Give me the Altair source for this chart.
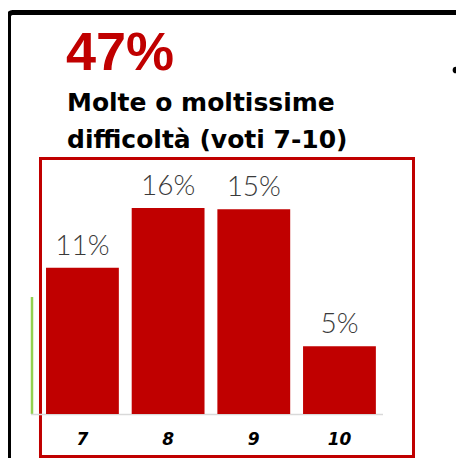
import altair as alt
import pandas as pd

# ---- data ----
categories = ["7", "8", "9", "10"]
values = [11.0, 15.5, 15.4, 5.1]
labels = ["11%", "16%", "15%", "5%"]
headline = "47%"
subtitle = ["Molte o moltissime", "difficoltà (voti 7-10)"]

df = pd.DataFrame({"voto": categories, "pct": values, "label": labels})

RED = "#C00000"
# whole svg must fit in 448x450 (page 464x466 minus 8px margins)
SVG_W, SVG_H = 448, 450
PAD_L, PAD_T = 31.6, 140.2
W, H = 342.7, 265.8
ox, oy = 8 + PAD_L, 8 + PAD_T

def X(p):
    return p - ox

def Y(p):
    return p - oy

one = pd.DataFrame({"k": [0]})

x_enc = alt.X("voto:N", sort=categories, title=None,
              scale=alt.Scale(paddingInner=0.15, paddingOuter=0.075),
              axis=alt.Axis(domain=False, ticks=False, tickSize=0, labelAngle=0,
                            labelPadding=30, labelBaseline="alphabetic",
                            labelFont="DejaVu Sans", labelFontSize=17, labelFontWeight="bold",
                            labelFontStyle="italic", labelColor="#000000", grid=False))
y_enc = alt.Y("pct:Q", title=None, scale=alt.Scale(domain=[0, 20], nice=False),
              axis=None)

frame = alt.Chart(one).mark_rect(fill="white", fillOpacity=0, stroke="#000000",
                                 strokeWidth=5, cornerRadius=4).encode(
    x=alt.value(X(8.5)), x2=alt.value(X(490)), y=alt.value(Y(12.5)), y2=alt.value(Y(490)))

redbox = alt.Chart(one).mark_rect(fill="white", fillOpacity=0, stroke=RED,
                                  strokeWidth=3).encode(
    x=alt.value(X(40.5)), x2=alt.value(X(413.5)), y=alt.value(Y(158.5)), y2=alt.value(Y(456.5)))

green = alt.Chart(one).mark_rule(color="#92D050", strokeWidth=2.5).encode(
    x=alt.value(X(32)), y=alt.value(Y(297)), y2=alt.value(Y(414)))

base = alt.Chart(one).mark_rule(color="#D9D9D9", strokeWidth=1.5).encode(
    x=alt.value(X(31)), x2=alt.value(X(383)), y=alt.value(Y(414.5)))

bars = alt.Chart(df).mark_bar(color=RED).encode(x=x_enc, y=y_enc)

bar_labels = alt.Chart(df).mark_text(font="Lato", fontWeight=300, fontSize=28,
                                     color="#3A3A3A", baseline="alphabetic", dy=-13).encode(
    x=alt.X("voto:N", sort=categories), y="pct:Q", text="label:N")

title1 = alt.Chart(one).mark_text(text=headline, font="Liberation Sans", fontWeight="bold", fontSize=54,
                                  color=RED, align="left", baseline="alphabetic").encode(
    x=alt.value(X(66)), y=alt.value(Y(70)))

sub1 = alt.Chart(one).mark_text(text=subtitle[0], font="DejaVu Sans", fontWeight="bold", fontSize=25,
                                color="#000000", align="left", baseline="alphabetic").encode(
    x=alt.value(X(67)), y=alt.value(Y(111)))

sub2 = alt.Chart(one).mark_text(text=subtitle[1], font="DejaVu Sans", fontWeight="bold", fontSize=25,
                                color="#000000", align="left", baseline="alphabetic").encode(
    x=alt.value(X(67)), y=alt.value(Y(148)))

bullet = alt.Chart(one).mark_point(filled=True, color="#000000", size=45, opacity=1).encode(
    x=alt.value(X(456)), y=alt.value(Y(70)))

chart = alt.layer(frame, redbox, green, base, bars, bar_labels, title1, sub1, sub2, bullet).properties(
    width=W, height=H,
    background="white",
    autosize=alt.AutoSizeParams(type="none"),
    padding={"left": PAD_L, "top": PAD_T, "right": SVG_W - PAD_L - W, "bottom": SVG_H - PAD_T - H},
).configure_view(stroke=None)

chart.save("out.html", embed_options={"renderer": "svg", "actions": False})
